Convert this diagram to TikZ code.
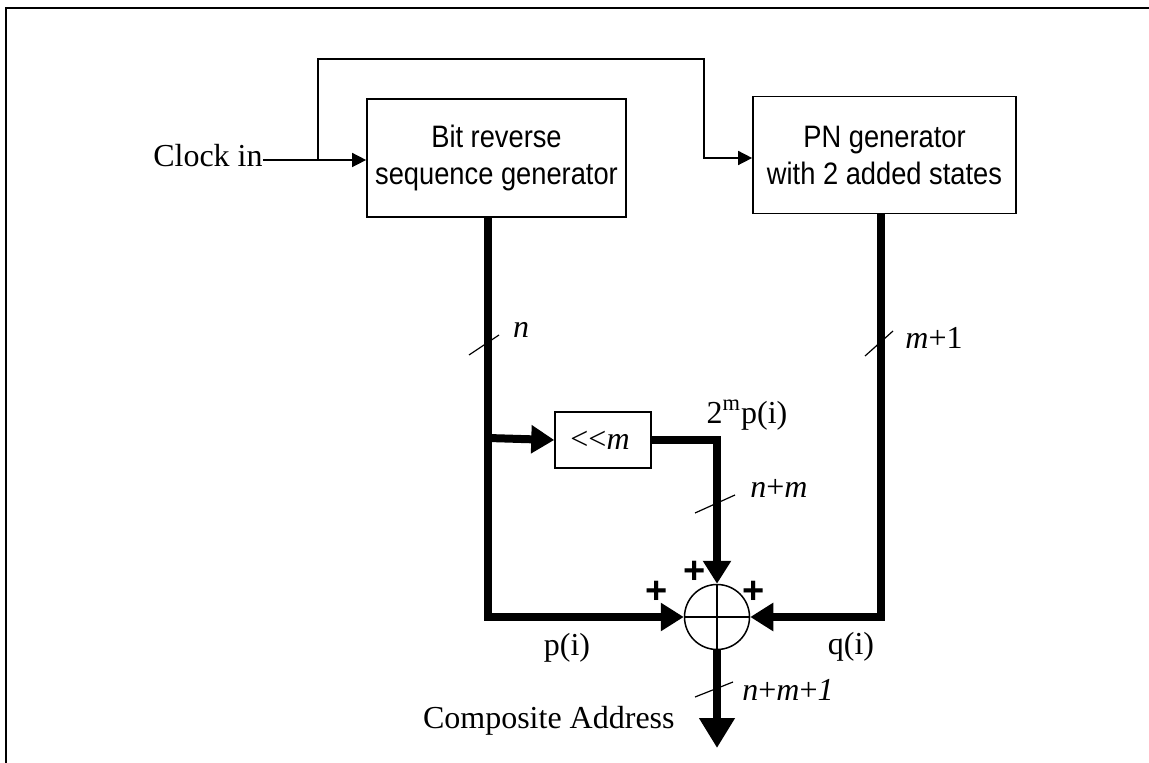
\documentclass[tikz,border=0pt]{standalone}
\usepackage{fontspec}
\setmainfont{Liberation Serif}
\newfontfamily\arialf[FakeStretch=0.88]{Liberation Sans}
\newfontfamily\arialb{Liberation Sans}
\usetikzlibrary{arrows.meta,calc}
\begin{document}
\begin{tikzpicture}[x=0.5pt,y=-0.5pt,
  frame/.style={line width=1pt},
  wire/.style={line width=0.75pt},
  bus/.style={line width=4pt, line join=miter},
  blk/.style={draw, line width=0.85pt, inner sep=0pt, align=center,
              font=\arialf\fontsize{15.5}{18.5}\selectfont},
  lbl/.style={inner sep=0pt, font=\fontsize{16}{19}\selectfont},
  tickmark/.style={line width=0.6pt},
  plus/.style={inner sep=0pt, font=\arialb\bfseries\fontsize{19}{19}\selectfont},
  warr/.style={-{Triangle[length=7pt,width=7pt]}},
  barr/.style={-{Triangle[length=11.5pt,width=13.5pt]}},
  oarr/.style={-{Triangle[length=15pt,width=17pt]}}
]
\useasboundingbox (0,0) rectangle (1149,763);
\draw[frame] (6,763) -- (6,8) -- (1149,8);

% blocks
\node[blk, minimum width=129.5pt, minimum height=59pt] (b1) at (496.5,158) {Bit reverse\\sequence generator};
\node[blk, minimum width=131.5pt, minimum height=58.5pt] (b2) at (884.5,155) {PN generator\\with 2 added states};
\node[draw, line width=0.75pt, minimum width=48pt, minimum height=28pt, inner sep=0pt,
      font=\fontsize{16}{19}\selectfont] (sh) at (603,440) {\hspace*{-3pt}<\kern0pt<\textit{m}};
\node[circle, draw, line width=0.75pt, minimum size=32.5pt, inner sep=0pt] (s) at (717,617) {};
\draw[wire] (s.north) -- (s.south) (s.west) -- (s.east);

% clock
\node[lbl, anchor=base east] (clk) at (263,167) {Clock in};
\coordinate (j) at (318,160);
\coordinate (t1) at (318,59);
\coordinate (t2) at (704,59);
\coordinate (a2) at (704,158);
\draw[wire, warr] (clk.east |- j) -- (b1.west |- j);
\draw[wire, warr] (j) -- (t1) -- (t2) -- (a2) -- (a2 -| b2.west);

% buses
\coordinate (lb) at (488,617);
\coordinate (lj) at (488,438);
\coordinate (rb) at (881,617);
\coordinate (out) at (717,748);
\draw[bus, barr] (b1.south -| lb) -- (lb) -- (s.west);
\draw[bus, barr] (lj) -- (sh.west);
\draw[bus, barr] (sh.east) -- (sh.east -| s.north) -- (s.north);
\draw[bus, barr] (b2.south -| rb) -- (rb) -- (s.east);
\draw[bus, oarr] (s.south) -- (out);

% bus width ticks
\draw[tickmark] (469,355) -- (499,335);
\draw[tickmark] (865,356) -- (893,331);
\draw[tickmark] (695,513) -- (735,495);
\draw[tickmark] (695,697) -- (733,682);

% labels
\node[lbl] (ln) at (521,330) {\textit{n}};
\node[lbl, anchor=west] (lm1) at (905,338) {\textit{m}+1};
\node[lbl, anchor=west] (lnm) at (750,488) {\textit{n}+\textit{m}};
\node[lbl, anchor=west] (lnm1) at (742,690) {\textit{n}+\textit{m}+\textit{1}};
\node[lbl] (l2m) at (747,415) {2\textsuperscript{m}p(i)};
\node[lbl] (lp) at (567,648) {p(i)};
\node[lbl] (lq) at (851,647) {q(i)};
\node[lbl, anchor=base east] (lca) at (675,728) {Composite Address};

% signs
\node[plus] (p1) at (695,572) {+};
\node[plus] (p2) at (657,592) {+};
\node[plus] (p3) at (754,592) {+};
\end{tikzpicture}
\end{document}
